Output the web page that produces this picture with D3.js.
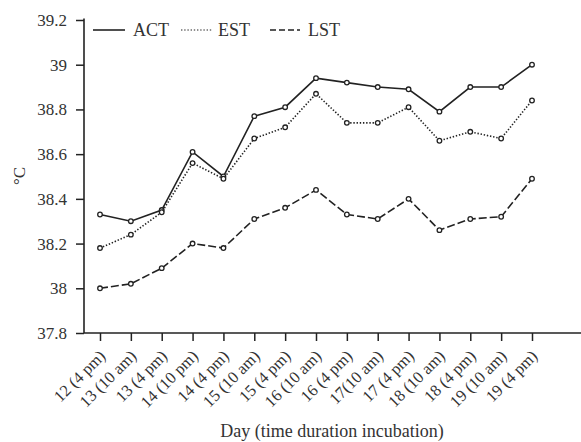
<!DOCTYPE html>
<html>
<head>
<meta charset="utf-8">
<script src="https://cdn.jsdelivr.net/npm/d3@7"></script>
<style>
  body { margin: 0; background: #fff; }
  text { font-family: "Liberation Serif", "Times New Roman", serif; fill: #333; }
</style>
</head>
<body>
<div id="chart"></div>
<script>
const days = ["12 (4 pm)", "13 (10 am)", "13 (4 pm)", "14 (10 pm)", "14 (4 pm)",
  "15 (10 am)", "15 (4 pm)", "16 (10 am)", "16 (4 pm)", "17(10 am)",
  "17 (4 pm)", "18 (10 am)", "18 (4 pm)", "19 (10 am)", "19 (4 pm)"];
const act = [38.33, 38.30, 38.35, 38.61, 38.50, 38.77, 38.81, 38.94, 38.92, 38.90, 38.89, 38.79, 38.90, 38.90, 39.00];
const est = [38.18, 38.24, 38.34, 38.56, 38.49, 38.67, 38.72, 38.87, 38.74, 38.74, 38.81, 38.66, 38.70, 38.67, 38.84];
const lst = [38.00, 38.02, 38.09, 38.20, 38.18, 38.31, 38.36, 38.44, 38.33, 38.31, 38.40, 38.26, 38.31, 38.32, 38.49];
const yTicks = [37.8, 38, 38.2, 38.4, 38.6, 38.8, 39, 39.2];

const series = [
  {name: "ACT", values: act, dash: null},
  {name: "EST", values: est, dash: "1.4,1.8"},
  {name: "LST", values: lst, dash: "8,3"}
];

const width = 581, height = 442;
const svg = d3.select("#chart").append("svg")
    .attr("width", width)
    .attr("height", height);

const x = d3.scalePoint().domain(days).range([100, 532]);
const y = d3.scaleLinear().domain([37.8, 39.2]).range([333, 20]);

// y axis
const yAxis = svg.append("g")
    .attr("transform", "translate(84,0)")
    .call(d3.axisLeft(y).tickValues(yTicks).tickSize(8).tickPadding(9)
      .tickFormat(d => d3.format("")(+d.toFixed(1))));
yAxis.select(".domain").attr("stroke", "#222").attr("stroke-width", 1.6)
    .attr("d", "M0,18.5V333");
yAxis.selectAll(".tick line").attr("stroke", "#222").attr("stroke-width", 1.5);
yAxis.selectAll("text").attr("font-size", 17).attr("fill", "#333")
    .style("font-family", "Liberation Serif");

// x axis
const xAxis = svg.append("g")
    .attr("transform", "translate(0,333)")
    .call(d3.axisBottom(x).tickSize(8));
xAxis.select(".domain").attr("stroke", "#222").attr("stroke-width", 1.6)
    .attr("d", "M84,0H581");
xAxis.selectAll(".tick line").attr("stroke", "#222").attr("stroke-width", 1.5);
xAxis.selectAll("text")
    .attr("font-size", 16.5)
    .attr("fill", "#333")
    .style("font-family", "Liberation Serif")
    .attr("x", 0).attr("y", 0).attr("dy", null)
    .attr("text-anchor", "end")
    .attr("transform", "translate(6,24) rotate(-45)");

// axis titles
svg.append("text")
    .attr("transform", "translate(25,176) rotate(-90)")
    .attr("text-anchor", "middle")
    .attr("font-size", 17)
    .text("°C");

svg.append("text")
    .attr("x", 332)
    .attr("y", 437)
    .attr("text-anchor", "middle")
    .attr("font-size", 18)
    .text("Day (time duration incubation)");

// lines
const line = d3.line()
    .x((d, i) => x(days[i]))
    .y(d => y(d));

const g = svg.append("g");
series.forEach(s => {
  g.append("path")
      .datum(s.values)
      .attr("fill", "none")
      .attr("stroke", "#222")
      .attr("stroke-width", 1.6)
      .attr("stroke-dasharray", s.dash)
      .attr("d", line);
  g.selectAll(null)
      .data(s.values)
    .enter().append("circle")
      .attr("cx", (d, i) => x(days[i]))
      .attr("cy", d => y(d))
      .attr("r", 2.3)
      .attr("fill", "#fff")
      .attr("stroke", "#222")
      .attr("stroke-width", 1.3);
});

// legend
const legendPos = [{x1: 93, x2: 125, tx: 133}, {x1: 181, x2: 212, tx: 218}, {x1: 270, x2: 300, tx: 308}];
const legend = svg.append("g");
series.forEach((s, i) => {
  const p = legendPos[i];
  legend.append("line")
      .attr("x1", p.x1).attr("x2", p.x2)
      .attr("y1", 30).attr("y2", 30)
      .attr("stroke", "#222")
      .attr("stroke-width", s.dash === "1.4,1.8" ? 1.2 : 1.6)
      .attr("stroke-dasharray", s.dash === "8,3" ? "6,3" : s.dash);
  legend.append("text")
      .attr("x", p.tx)
      .attr("y", 36)
      .attr("font-size", 18)
      .text(s.name);
});
</script>
</body>
</html>
